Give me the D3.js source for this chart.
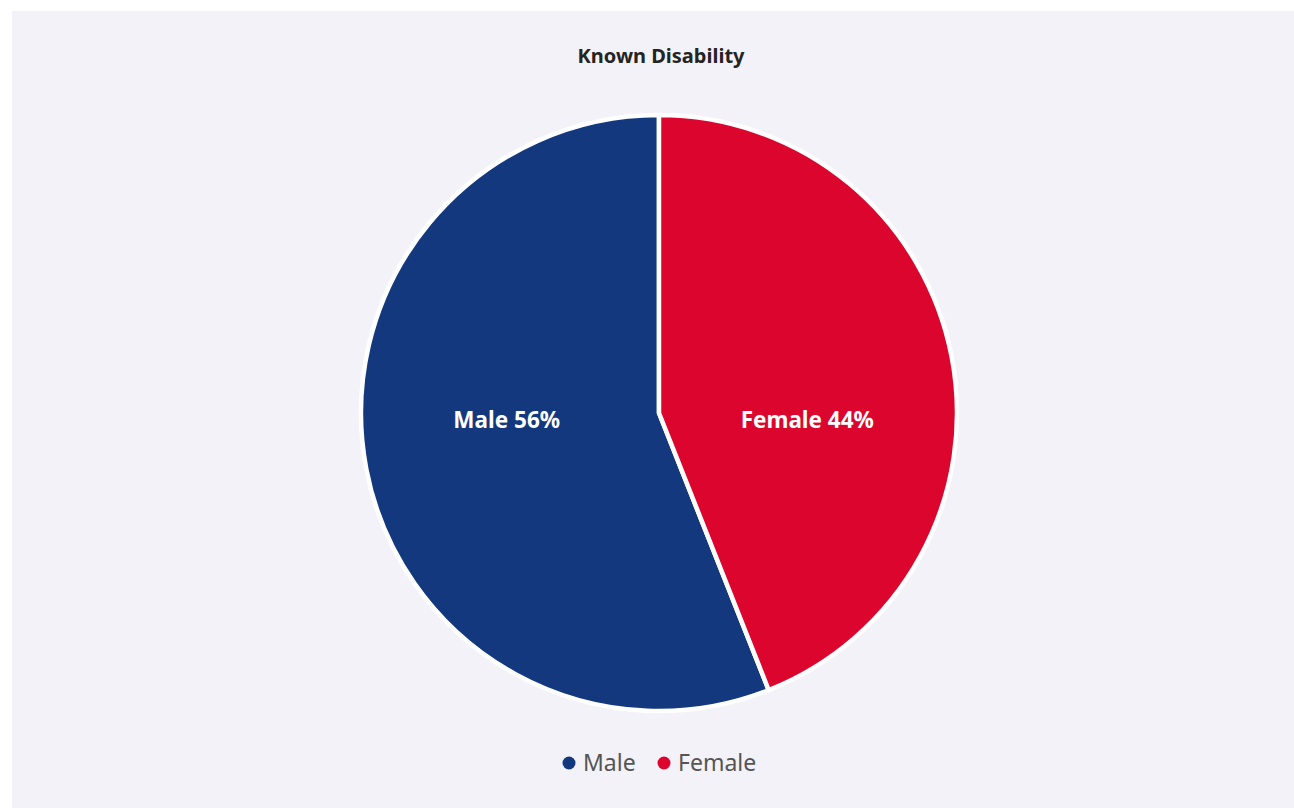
<!DOCTYPE html>
<html>
<head>
<meta charset="utf-8">
<script src="https://cdn.jsdelivr.net/npm/d3@7"></script>
<style>
  html, body { margin: 0; padding: 0; background: #ffffff; }
  svg { display: block; }
</style>
</head>
<body>
<svg id="chart" width="1294" height="808"></svg>
<script>
const title = "Known Disability";
const categories = ["Male", "Female"];
const values = [56, 44];
const colors = ["#13387e", "#dc052d"];

const W = 1294, H = 808;
const svg = d3.select("#chart");

svg.append("rect").attr("x", 12).attr("y", 11).attr("width", W - 12).attr("height", H - 11)
  .attr("fill", "#f3f2f8");

svg.append("text").attr("x", 661).attr("y", 63).attr("text-anchor", "middle")
  .attr("font-family", "'Noto Sans', sans-serif").attr("font-weight", "bold")
  .attr("font-size", 20).attr("fill", "#252423").text(title);

const cx = 659, cy = 413, R = 298;
const data = categories.map((c, i) => ({ name: c, value: values[i], color: colors[i], idx: i }));
const total = d3.sum(values);

// Female drawn first clockwise from 12 o'clock, then Male
const pie = d3.pie().value(d => d.value).sort((a, b) => b.idx - a.idx);
const arcs = pie(data);
const arc = d3.arc().innerRadius(0).outerRadius(R);

const g = svg.append("g").attr("transform", `translate(${cx},${cy})`);
g.selectAll("path").data(arcs).enter().append("path")
  .attr("d", arc).attr("fill", d => d.data.color)
  .attr("stroke", "#ffffff").attr("stroke-width", 4.5).attr("stroke-linejoin", "round");

const labelArc = d3.arc().innerRadius(0).outerRadius(R * 1.02);
g.selectAll("text.lbl").data(arcs).enter().append("text").attr("class", "lbl")
  .attr("x", d => labelArc.centroid(d)[0] - (d.data.idx === 0 ? 3 : 1))
  .attr("y", 15)
  .attr("text-anchor", "middle")
  .attr("font-family", "'Noto Sans', sans-serif").attr("font-weight", "bold")
  .attr("font-size", 22.5).attr("fill", "#ffffff")
  .text(d => `${d.data.name} ${Math.round(d.data.value / total * 100)}%`);

// legend
const legend = svg.append("g");
const legendX = [569, 664];
data.forEach((d, i) => {
  legend.append("circle").attr("cx", legendX[i]).attr("cy", 763).attr("r", 6.5).attr("fill", d.color);
  legend.append("text").attr("x", legendX[i] + 14).attr("y", 771)
    .attr("font-family", "'Noto Sans', sans-serif").attr("font-size", 23)
    .attr("fill", "#555555").text(d.name);
});
</script>
</body>
</html>
